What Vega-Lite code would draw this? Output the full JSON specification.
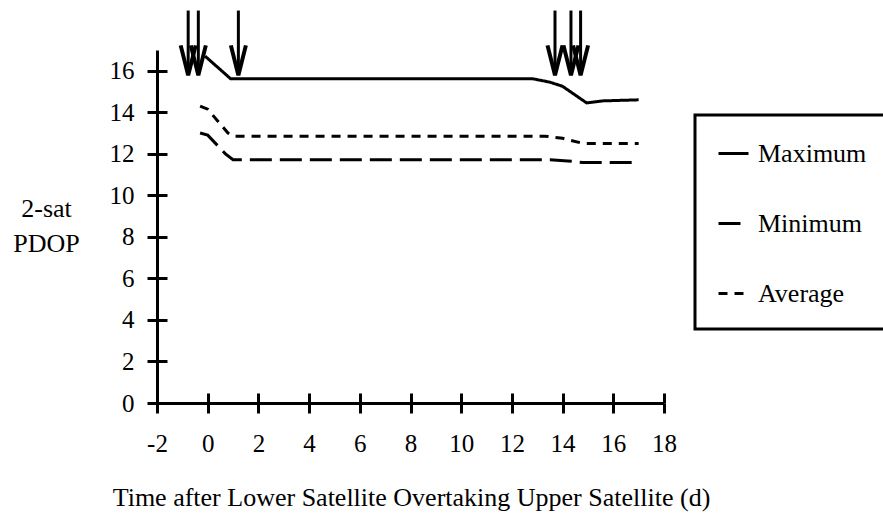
{
  "$schema": "https://vega.github.io/schema/vega-lite/v6.json",
  "width": 507,
  "height": 353,
  "autosize": {"type": "none"},
  "padding": {"left": 157, "top": 50, "right": 219, "bottom": 113},
  "background": "white",
  "config": {
    "font": "Liberation Serif",
    "view": {"stroke": null},
    "axis": {
      "domainColor": "black",
      "domainWidth": 3,
      "tickColor": "black",
      "tickWidth": 3,
      "tickSize": 10,
      "labelColor": "black",
      "labelFontSize": 25,
      "labelFlush": false,
      "labelOverlap": false,
      "labelBound": false,
      "grid": false,
      "titleColor": "black",
      "titleFontSize": 26,
      "titleFontWeight": "normal"
    }
  },
  "datasets": {
    "curves": [
      {"t": -0.1, "value": 16.7, "series": "Maximum"},
      {"t": 0.9, "value": 15.62, "series": "Maximum"},
      {"t": 12.8, "value": 15.62, "series": "Maximum"},
      {"t": 13.5, "value": 15.45, "series": "Maximum"},
      {"t": 14.0, "value": 15.25, "series": "Maximum"},
      {"t": 14.95, "value": 14.45, "series": "Maximum"},
      {"t": 15.6, "value": 14.55, "series": "Maximum"},
      {"t": 17.0, "value": 14.6, "series": "Maximum"},
      {"t": -0.3, "value": 13.0, "series": "Minimum"},
      {"t": 0.0, "value": 12.9, "series": "Minimum"},
      {"t": 0.7, "value": 12.0, "series": "Minimum"},
      {"t": 1.0, "value": 11.72, "series": "Minimum"},
      {"t": 13.5, "value": 11.72, "series": "Minimum"},
      {"t": 14.2, "value": 11.66, "series": "Minimum"},
      {"t": 14.8, "value": 11.58, "series": "Minimum"},
      {"t": 17.0, "value": 11.58, "series": "Minimum"},
      {"t": -0.3, "value": 14.3, "series": "Average"},
      {"t": 0.0, "value": 14.15, "series": "Average"},
      {"t": 0.8, "value": 13.0, "series": "Average"},
      {"t": 1.0, "value": 12.85, "series": "Average"},
      {"t": 13.3, "value": 12.85, "series": "Average"},
      {"t": 14.0, "value": 12.75, "series": "Average"},
      {"t": 14.8, "value": 12.5, "series": "Average"},
      {"t": 17.0, "value": 12.5, "series": "Average"}
    ],
    "arrows": [
      {"t": -0.77},
      {"t": -0.37},
      {"t": 1.21},
      {"t": 13.7},
      {"t": 14.33},
      {"t": 14.71}
    ]
  },
  "layer": [
    {
      "data": {"name": "curves"},
      "mark": {"type": "line", "color": "black", "strokeWidth": 3, "clip": false},
      "encoding": {
        "x": {
          "field": "t",
          "type": "quantitative",
          "scale": {"domain": [-2, 18], "nice": false, "zero": false},
          "axis": {
            "orient": "bottom",
            "values": [-2, 0, 2, 4, 6, 8, 10, 12, 14, 16, 18],
            "labelExpr": "'' + datum.value",
            "labelPadding": 18,
            "title": "Time after Lower Satellite Overtaking Upper Satellite (d)",
            "titleX": 254,
            "titleY": 102,
            "titleAlign": "center",
            "titleBaseline": "alphabetic"
          }
        },
        "y": {
          "field": "value",
          "type": "quantitative",
          "scale": {"domain": [0, 17], "nice": false, "zero": true},
          "axis": {
            "orient": "left",
            "values": [0, 2, 4, 6, 8, 10, 12, 14, 16],
            "format": "d",
            "labelPadding": 13,
            "title": ["2-sat", "PDOP"],
            "titleAngle": 0,
            "titleAlign": "center",
            "titleBaseline": "alphabetic",
            "titleX": -111,
            "titleY": 166,
            "titleLineHeight": 35,
            "titleFontSize": 26
          }
        },
        "strokeDash": {
          "field": "series",
          "type": "nominal",
          "scale": {
            "domain": ["Maximum", "Minimum", "Average"],
            "range": [[1, 0], [22, 8], [9, 7]]
          },
          "legend": {
            "title": null,
            "orient": "none",
            "legendX": 538,
            "legendY": 65,
            "padding": 22,
            "strokeColor": "black",
            "symbolType": "stroke",
            "symbolSize": 900,
            "symbolStrokeWidth": 3,
            "symbolStrokeColor": "black",
            "labelFontSize": 26,
            "labelColor": "black",
            "labelOffset": 8,
            "labelLimit": 300,
            "rowPadding": 40,
            "encode": {"legend": {"update": {"strokeWidth": {"value": 3}}}}
          }
        }
      }
    },
    {
      "data": {"name": "arrows"},
      "mark": {"type": "rule", "color": "black", "strokeWidth": 3, "clip": false},
      "encoding": {
        "x": {
          "field": "t",
          "type": "quantitative",
          "scale": {"domain": [-2, 18], "nice": false, "zero": false},
          "axis": {
            "orient": "top",
            "offset": -353,
            "values": [-2, 0, 2, 4, 6, 8, 10, 12, 14, 16, 18],
            "labels": false,
            "domain": false,
            "title": null
          }
        },
        "y": {
          "datum": 15.8,
          "type": "quantitative",
          "axis": {
            "orient": "right",
            "offset": -507,
            "values": [0, 2, 4, 6, 8, 10, 12, 14, 16],
            "labels": false,
            "domain": false,
            "title": null
          }
        },
        "y2": {"datum": 18.9}
      }
    },
    {
      "data": {"name": "arrows"},
      "mark": {
        "type": "point",
        "shape": "M-0.5,-1L0,1L0.5,-1",
        "size": 900,
        "filled": false,
        "stroke": "black",
        "strokeWidth": 4,
        "strokeJoin": "miter",
        "opacity": 1,
        "clip": false
      },
      "encoding": {
        "x": {"field": "t", "type": "quantitative", "axis": null},
        "y": {"datum": 16.5, "type": "quantitative", "axis": null}
      }
    }
  ],
  "resolve": {"axis": {"x": "independent", "y": "independent"}}
}
